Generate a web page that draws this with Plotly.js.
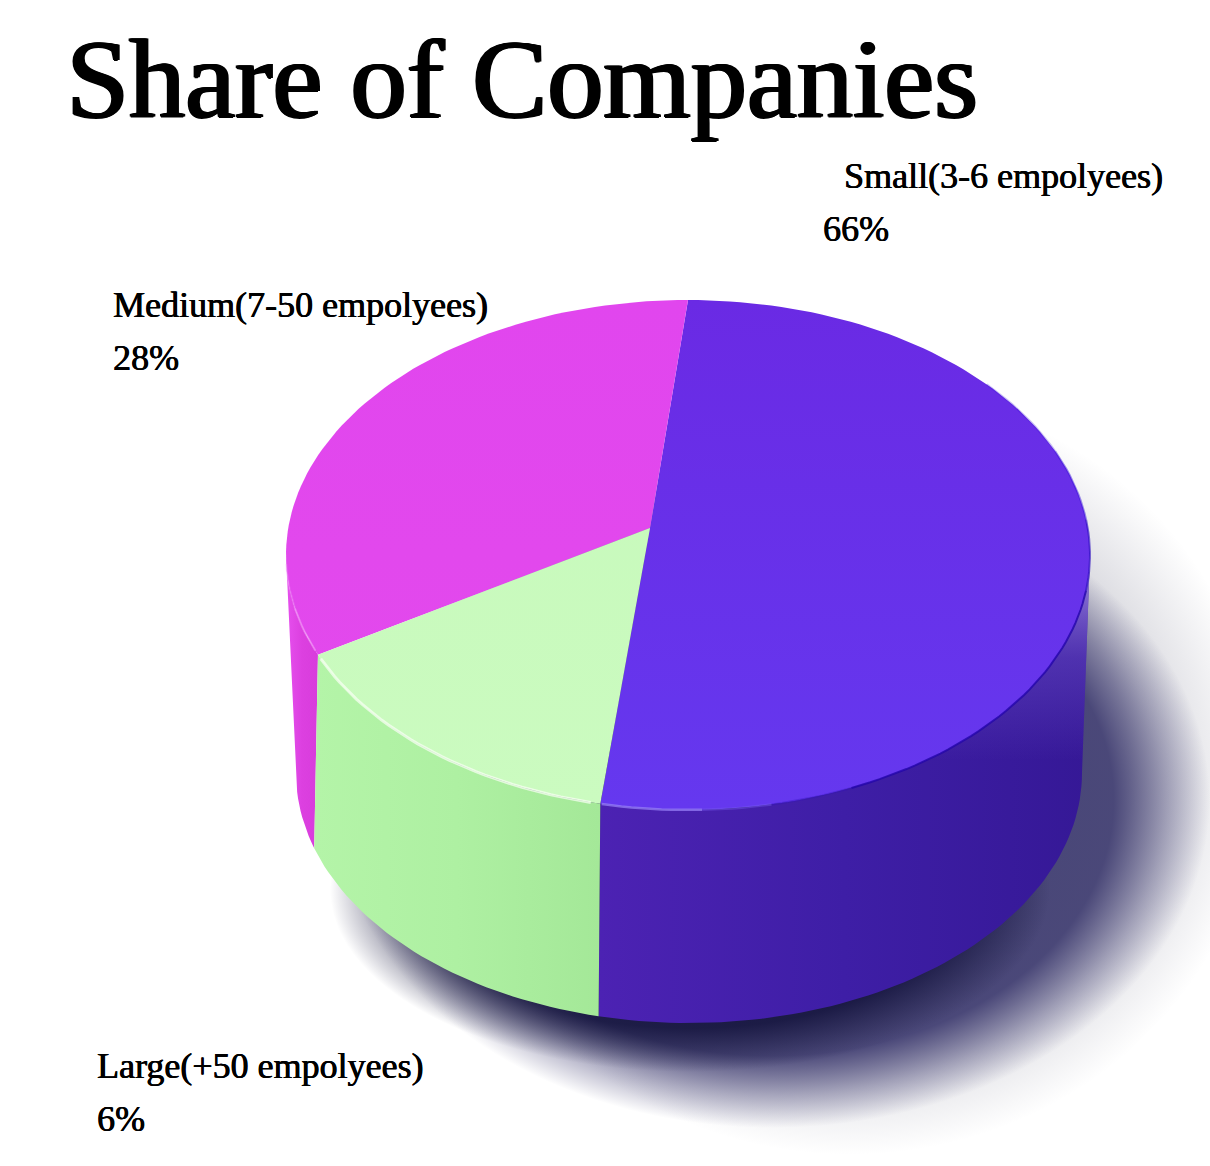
<!DOCTYPE html>
<html>
<head>
<meta charset="utf-8">
<script src="https://cdn.plot.ly/plotly-3.0.1.min.js"></script>
<style>html,body{margin:0;padding:0;background:#fff}#chart{width:1210px;height:1166px}</style>
</head>
<body>
<div id="chart"></div>
<script>
// Data as printed on the picture
const chartTitle = 'Share of Companies';
const categories = ['Small(3-6 empolyees)', 'Medium(7-50 empolyees)', 'Large(+50 empolyees)'];
const shares = [66, 28, 6];

// Drawn wedge boundaries on the rim (the picture's wedges, degrees, clockwise from +x)
const topRimStart = [-90, 157, 102.6];
const topRimEnd = [102.6, 270, 157];
const wallStart = [0, 157, 102.6];
const wallEnd = [102.6, 180, 157];
const baseStart = [0, 162.5, 103.3];
const baseEnd = [103.3, 180, 162.5];

const topColors = [['#6a2ae4', '#6538ef'], ['#e146ee', '#e34aec'], ['#c6f9ba', '#cbfbc0']];
const wallColors = [['#4c22b3', '#3e1ea6', '#351896'], ['#e650ee', '#dc40e0', '#d83cdc'], ['#b4f4a8', '#aef0a2', '#a4e898']];

// Scene frame
const topE = {cx: 688, cy: 555, a: 402, b: 255};
const baseE = {cx: 689, cy: 773, a: 393, b: 250};
const hub = {x: 650, y: 528};

function arc(e, t0, t1) {
  const xs = [], ys = [], n = Math.max(2, Math.ceil(Math.abs(t1 - t0) / 1.5));
  for (let i = 0; i <= n; i++) {
    const t = (t0 + (t1 - t0) * i / n) * Math.PI / 180;
    xs.push(e.cx + e.a * Math.cos(t));
    ys.push(e.cy + e.b * Math.sin(t));
  }
  return {xs, ys};
}
function blob(cx, cy, a, b, scale) {
  const p = arc({cx, cy, a, b}, 0, 360);
  return {type: 'scatter', mode: 'lines', x: p.xs, y: p.ys, fill: 'toself', line: {width: 0},
    fillcolor: 'rgba(0,0,0,0)', hoverinfo: 'skip', showlegend: false,
    fillgradient: {type: 'radial', colorscale: scale}};
}
const traces = [];

// Soft ground shadow
traces.push(blob(850, 770, 410, 385, [[0, 'rgba(60,60,90,0.26)'], [0.68, 'rgba(60,60,90,0.24)'], [1, 'rgba(60,60,90,0)']]));
traces.push(blob(772, 800, 438, 328, [[0, 'rgba(45,42,100,0.85)'], [0.78, 'rgba(45,42,100,0.82)'], [0.9, 'rgba(45,42,100,0.36)'], [1, 'rgba(45,42,100,0)']]));
traces.push(blob(690, 890, 360, 182, [[0, 'rgba(10,10,50,0.9)'], [0.76, 'rgba(10,10,50,0.72)'], [1, 'rgba(10,10,50,0)']]));

// Walls
categories.forEach((c, i) => {
  const up = arc(topE, wallStart[i], wallEnd[i]);
  const lo = arc(baseE, baseEnd[i], baseStart[i]);
  const xs = up.xs.concat(lo.xs), ys = up.ys.concat(lo.ys);
  traces.push({type: 'scatter', mode: 'lines', x: xs, y: ys, fill: 'toself', line: {width: 0},
    name: c, hoverinfo: 'skip', showlegend: false,
    fillgradient: {type: 'horizontal',
      colorscale: [[0, wallColors[i][0]], [0.5, wallColors[i][1]], [1, wallColors[i][2]]]}});
  if (i === 0) {
    // light falling off the right side of the wall
    traces.push({type: 'scatter', mode: 'lines', x: xs, y: ys, fill: 'toself', line: {width: 0},
      hoverinfo: 'skip', showlegend: false,
      fillgradient: {type: 'vertical', start: 575, stop: 760,
        colorscale: [[0, 'rgba(165,145,230,0.85)'], [0.45, 'rgba(110,80,205,0.45)'], [1, 'rgba(110,80,205,0)']]}});
  }
});

// Top faces
categories.forEach((c, i) => {
  const r = arc(topE, topRimStart[i], topRimEnd[i]);
  traces.push({type: 'scatter', mode: 'lines',
    x: [hub.x].concat(r.xs, [hub.x]), y: [hub.y].concat(r.ys, [hub.y]),
    fill: 'toself', line: {width: 0}, name: c, showlegend: false,
    hoverinfo: 'text', hoveron: 'fills', text: c + ': ' + shares[i] + '%',
    fillgradient: {type: 'vertical', start: 300, stop: 808,
      colorscale: [[0, topColors[i][0]], [1, topColors[i][1]]]}});
});

// Rim highlights
function rim(t0, t1, color, width) {
  const r = arc(topE, t0, t1);
  traces.push({type: 'scatter', mode: 'lines', x: r.xs, y: r.ys,
    line: {color, width}, hoverinfo: 'skip', showlegend: false});
}
rim(104, 156, 'rgba(250,255,245,0.7)', 3);
rim(158, 168, 'rgba(245,170,250,0.5)', 2);
rim(168, 178, 'rgba(245,170,250,0.25)', 2);
rim(88, 102.4, 'rgba(150,125,245,0.75)', 2.5);
rim(78, 88, 'rgba(120,90,240,0.4)', 2.5);
rim(66, 78, 'rgba(50,15,190,0.35)', 2);
rim(8, 66, 'rgba(35,5,170,0.8)', 2);
rim(-8, 8, 'rgba(40,10,190,0.6)', 2);
rim(-24, -8, 'rgba(50,15,215,0.45)', 2);
rim(-42, -24, 'rgba(50,15,215,0.25)', 2);

const labelPos = [[843, 176, 822, 229], [112, 305, 112, 358], [96, 1066, 96, 1119]];
const annotations = [];
categories.forEach((c, i) => {
  const font = {family: '"Liberation Serif", "Times New Roman", serif', size: 36, color: '#000', shadow: '0.5px 0 0 #000, -0.3px 0 0 #000'};
  annotations.push({text: c, x: labelPos[i][0], y: labelPos[i][1], xref: 'x', yref: 'y', xanchor: 'left', yanchor: 'middle', showarrow: false, font, borderpad: 0});
  annotations.push({text: shares[i] + '%', x: labelPos[i][2], y: labelPos[i][3], xref: 'x', yref: 'y', xanchor: 'left', yanchor: 'middle', showarrow: false, font, borderpad: 0});
});

const hiddenAxis = {visible: false, showgrid: false, zeroline: false, fixedrange: true};
Plotly.newPlot('chart', traces, {
  width: 1210, height: 1166,
  margin: {l: 0, r: 0, t: 0, b: 0},
  paper_bgcolor: '#fff', plot_bgcolor: '#fff',
  showlegend: false,
  title: {text: chartTitle, x: 66 / 1210, xanchor: 'left', xref: 'paper', y: 1 - 78 / 1166, yanchor: 'middle', yref: 'container',
    font: {family: '"Liberation Serif", "Times New Roman", serif', size: 112.4, color: '#000', shadow: '2px 0 0 #000, 1px 0 0 #000, -1px 0 0 #000, 0 0.5px 0 #000'}},
  xaxis: Object.assign({range: [0, 1210]}, hiddenAxis),
  yaxis: Object.assign({range: [1166, 0]}, hiddenAxis),
  annotations
}, {displayModeBar: false, responsive: false});
</script>
</body>
</html>
